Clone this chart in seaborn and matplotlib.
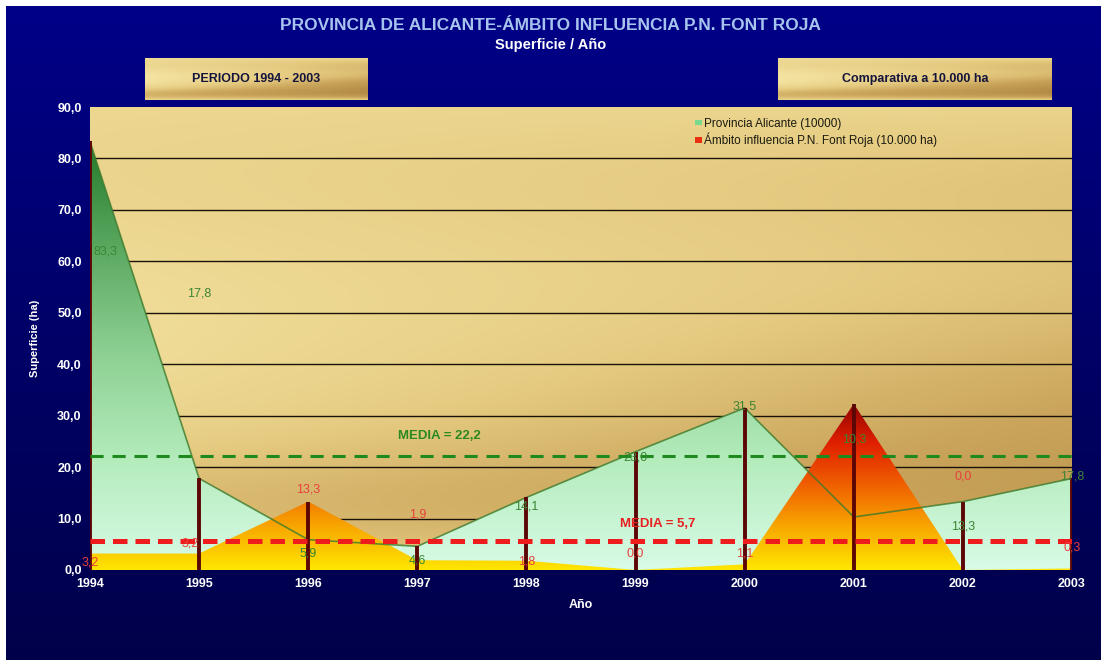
import numpy as np
import matplotlib
matplotlib.use("Agg")
import matplotlib.pyplot as plt
from matplotlib.colors import LinearSegmentedColormap
from matplotlib.patches import Patch
import seaborn as sns

# datos
years = [1994, 1995, 1996, 1997, 1998, 1999, 2000, 2001, 2002, 2003]
alicante = [83.3, 17.8, 5.9, 4.6, 14.1, 23.0, 31.5, 10.3, 13.3, 17.8]
fontroja = [3.2, 3.2, 13.3, 1.9, 1.8, 0.0, 1.1, 32.3, 0.0, 0.3]
yticks = [0, 10, 20, 30, 40, 50, 60, 70, 80, 90]

# desplazamiento de las etiquetas (unidades del eje y)
lab_dy_ali = [-21.4, 36.0, -2.6, -2.7, -1.8, -1.2, 0.2, 15.0, -4.9, 0.3]
lab_dy_fr = [-1.8, 2.0, 2.3, 8.8, -0.2, 3.3, 2.2, None, 18.1, 4.0]

sns.set_theme(style="white")
plt.rcParams['font.family'] = ['Liberation Sans', 'DejaVu Sans']

fig = plt.figure(figsize=(11.01, 6.6), dpi=100, facecolor='white')

# fondo azul
bg = fig.add_axes([6/1101, 0, 1-6/1101, 1-6/660], zorder=-5)
blue = LinearSegmentedColormap.from_list('b', ['#00004a', '#000068', '#000088'])
grad = np.linspace(0, 1, 256).reshape(-1, 1)
bg.imshow(grad, cmap=blue, aspect='auto', origin='lower', extent=[0, 1, 0, 1])
bg.axis('off')

gold = LinearSegmentedColormap.from_list('g', ['#f4e4a2', '#e6cc82', '#c9a45a', '#b48c48'])

def gold_img(h, w):
    yy, xx = np.mgrid[0:1:h*1j, 0:1:w*1j]
    t = 0.15 + 0.55*xx*np.exp(-((yy-0.45)/0.28)**2) + 0.25*np.exp(-((yy-0.12)/0.15)**2)
    t += 0.12*np.sin(yy*9)*(0.5+xx)
    return np.clip(t, 0, 1)

ax = fig.add_axes([90/1101, 90/660, 982/1101, 463/660])
ax.imshow(gold_img(200, 300), cmap=gold, vmin=0, vmax=1, aspect='auto',
          extent=[1994, 2003, 0, 90], origin='lower', zorder=0)

for yv in yticks[1:-1]:
    ax.axhline(yv, color='#1a1208', lw=1.0, zorder=1)

# area Alicante con degradado
green = LinearSegmentedColormap.from_list('gr', ['#d8fbe6', '#b4ecbc', '#8ccf92', '#58a65e', '#1f7526'])
poly = ax.fill_between(years, 0, alicante, facecolor='none', edgecolor='none', zorder=2)
img = ax.imshow(np.linspace(0, 1, 256).reshape(-1, 1), cmap=green, aspect='auto',
                extent=[1994, 2003, 0, 85], origin='lower', zorder=2)
img.set_clip_path(poly.get_paths()[0], transform=ax.transData)

# area Font Roja con degradado
redmap = LinearSegmentedColormap.from_list('r', ['#ffe600', '#f8a800', '#f06000', '#e02000', '#8a0000'])
poly2 = ax.fill_between(years, 0, fontroja, facecolor='none', edgecolor='none', zorder=3)
img2 = ax.imshow(np.linspace(0, 1, 256).reshape(-1, 1), cmap=redmap, aspect='auto',
                 extent=[1994, 2003, 0, 33], origin='lower', zorder=3)
img2.set_clip_path(poly2.get_paths()[0], transform=ax.transData)

sns.lineplot(x=years, y=alicante, color='#3d7a2c', lw=1.2, alpha=0.8, ax=ax, zorder=4)

ax.vlines(years, 0, np.maximum(alicante, fontroja), color='#5c0606', lw=2.8, zorder=5)

m_ali = np.mean(alicante)
m_fr = np.mean(fontroja)
ax.axhline(m_ali, color='#1e8a1e', lw=2.2, dashes=(4.3, 2.9), zorder=6)
ax.axhline(m_fr, color='#ee1c1c', lw=3.6, dashes=(2.9, 1.6), zorder=6)
ax.text(1997.2, m_ali + 3.9, 'MEDIA = ' + f'{m_ali:.1f}'.replace('.', ','), color='#2a8a20',
        fontsize=9.5, fontweight='bold', ha='center', va='center', zorder=7)
ax.text(1999.2, m_fr + 3.2, 'MEDIA = ' + f'{m_fr:.1f}'.replace('.', ','), color='#e82020',
        fontsize=9.5, fontweight='bold', ha='center', va='center', zorder=7)

for x, v, d in zip(years, alicante, lab_dy_ali):
    ax.text(x + (0.14 if x == 1994 else 0), v + d, f'{v:.1f}'.replace('.', ','), color='#3a8534',
            fontsize=9, ha='center', va='center', zorder=7)
for x, v, d in zip(years, fontroja, lab_dy_fr):
    if d is None:
        continue
    dx = -0.08 if x in (1995,) else 0
    ax.text(x + dx, v + d, f'{v:.1f}'.replace('.', ','), color='#e8403a',
            fontsize=9, ha='center', va='center', zorder=7)

ax.set_xlim(1994, 2003)
ax.set_ylim(0, 90)
ax.set_xticks(years)
ax.set_yticks(yticks)
ax.set_yticklabels([f'{t:.1f}'.replace('.', ',') for t in yticks])
ax.tick_params(colors='white', labelsize=9, length=0, pad=6)
for lab in ax.get_xticklabels() + ax.get_yticklabels():
    lab.set_fontweight('bold')
for s in ax.spines.values():
    s.set_visible(False)
ax.set_xlabel('Año', color='white', fontsize=9, fontweight='bold', labelpad=6)
ax.set_ylabel('Superficie (ha)', color='white', fontsize=8, fontweight='bold', labelpad=12)

handles = [Patch(facecolor='#7ad88a', edgecolor='none'),
           Patch(facecolor='#e83010', edgecolor='none')]
leg = ax.legend(handles, ['Provincia Alicante (10000)', 'Ámbito influencia P.N. Font Roja (10.000 ha)'],
                loc='upper left', bbox_to_anchor=(0.605, 1.0), frameon=False, fontsize=8.5,
                handlelength=0.6, handleheight=0.35, handletextpad=0.2, labelspacing=0.25)
for t in leg.get_texts():
    t.set_color('#1a1a10')

# cajas superiores
def box(rect, text):
    b = fig.add_axes(rect)
    b.imshow(gold_img(40, 200), cmap=gold, aspect='auto', extent=[0, 1, 0, 1], origin='lower')
    b.text(0.5, 0.5, text, ha='center', va='center', fontsize=9, fontweight='bold', color='#14143c')
    b.set_xlim(0, 1)
    b.set_ylim(0, 1)
    b.axis('off')

box([145/1101, 1-100/660, 223/1101, 42/660], 'PERIODO 1994 - 2003')
box([778/1101, 1-100/660, 274/1101, 42/660], 'Comparativa a 10.000 ha')

fig.text(0.5, 1-25/660, 'PROVINCIA DE ALICANTE-ÁMBITO INFLUENCIA P.N. FONT ROJA', ha='center', va='center',
         color='#a6c4ee', fontsize=12.5, fontweight='bold')
fig.text(0.5, 1-45/660, 'Superficie / Año', ha='center', va='center', color='white', fontsize=10.5,
         fontweight='bold')

fig.savefig('out.png', dpi=100, facecolor='white')
